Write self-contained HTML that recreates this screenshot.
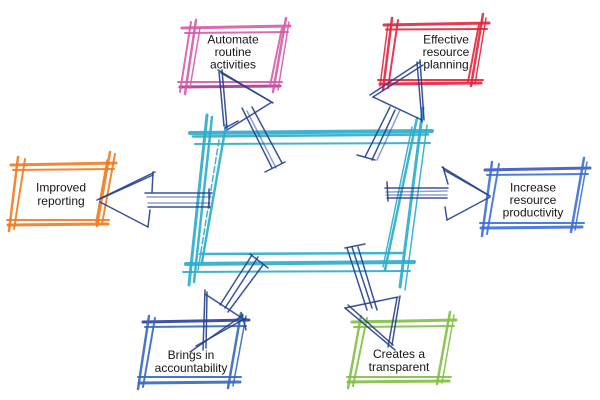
<!DOCTYPE html>
<html>
<head>
<meta charset="utf-8">
<style>
  html, body { margin: 0; padding: 0; background: #ffffff; }
  body { width: 600px; height: 400px; overflow: hidden; }
  svg { display: block; }
  text { font-family: "Liberation Sans", sans-serif; font-size: 12px; fill: #161616; text-anchor: middle; }
</style>
</head>
<body>
<svg width="600" height="400" viewBox="0 0 600 400" xmlns="http://www.w3.org/2000/svg">
  <rect x="0" y="0" width="600" height="400" fill="#ffffff"/>

  <!-- Central cyan box -->
  <g stroke="#2aaccb" stroke-linecap="round" fill="none" stroke-opacity="0.9">
    <line x1="190" y1="133" x2="432" y2="131" stroke-width="4"/>
    <line x1="193" y1="136.5" x2="428" y2="134.5" stroke-width="2.5"/>
    <line x1="195" y1="144" x2="430" y2="143" stroke-width="2"/>
    <line x1="207" y1="115" x2="189" y2="285" stroke-width="3"/>
    <line x1="212" y1="117" x2="194" y2="282" stroke-width="2.5"/>
    <line x1="226" y1="125" x2="202" y2="262" stroke-width="2.5"/>
    <line x1="219" y1="140" x2="198" y2="270" stroke-width="1.5" stroke-dasharray="6 3"/>
    <line x1="200" y1="254" x2="402" y2="253" stroke-width="2.5"/>
    <line x1="186" y1="264" x2="414" y2="262" stroke-width="4"/>
    <line x1="183" y1="272" x2="410" y2="271" stroke-width="2"/>
    <line x1="423" y1="108" x2="400" y2="287" stroke-width="3"/>
    <line x1="417" y1="118" x2="385" y2="270" stroke-width="2.5"/>
    <line x1="412" y1="127" x2="383" y2="267" stroke-width="1.5"/>
    <line x1="427" y1="125" x2="405" y2="290" stroke-width="1.5"/>
  </g>

  <!-- Pink box: Automate routine activities -->
  <g stroke="#d65aaa" stroke-linecap="round" fill="none" stroke-opacity="0.9">
    <line x1="182" y1="28" x2="290" y2="26" stroke-width="3"/>
    <line x1="185" y1="33" x2="288" y2="32" stroke-width="2"/>
    <line x1="178" y1="82" x2="282" y2="82" stroke-width="2"/>
    <line x1="180" y1="87" x2="280" y2="86" stroke-width="3" stroke="#a8398e"/>
    <line x1="196" y1="20" x2="185" y2="94" stroke-width="2.5"/>
    <line x1="191" y1="22" x2="180" y2="92" stroke-width="2"/>
    <line x1="200" y1="28" x2="190" y2="88" stroke-width="1.5"/>
    <line x1="286" y1="18" x2="273" y2="92" stroke-width="2.5"/>
    <line x1="289" y1="22" x2="278" y2="90" stroke-width="1.5"/>
    <line x1="282" y1="28" x2="270" y2="86" stroke-width="2"/>
  </g>

  <!-- Red box: Effective resource planning -->
  <g stroke="#e2253e" stroke-linecap="round" fill="none" stroke-opacity="0.9">
    <line x1="384" y1="25" x2="489" y2="23" stroke-width="3"/>
    <line x1="386" y1="29.5" x2="487" y2="29" stroke-width="2"/>
    <line x1="378" y1="80" x2="483" y2="80" stroke-width="2"/>
    <line x1="380" y1="84" x2="481" y2="83" stroke-width="3"/>
    <line x1="392" y1="18" x2="383" y2="90" stroke-width="2.5"/>
    <line x1="398" y1="20" x2="388" y2="88" stroke-width="2"/>
    <line x1="388" y1="24" x2="380" y2="86" stroke-width="1.5"/>
    <line x1="483" y1="14" x2="471" y2="86" stroke-width="2.5"/>
    <line x1="486" y1="18" x2="475" y2="84" stroke-width="1.5"/>
    <line x1="479" y1="24" x2="468" y2="82" stroke-width="2"/>
  </g>

  <!-- Orange box: Improved reporting -->
  <g stroke="#f27a1e" stroke-linecap="round" fill="none" stroke-opacity="0.9">
    <line x1="11" y1="165" x2="116" y2="163" stroke-width="3"/>
    <line x1="13" y1="170" x2="114" y2="169" stroke-width="2"/>
    <line x1="7" y1="220" x2="109" y2="220" stroke-width="2"/>
    <line x1="8" y1="225" x2="108" y2="224" stroke-width="3"/>
    <line x1="18" y1="157" x2="9" y2="231" stroke-width="2.5"/>
    <line x1="25" y1="159" x2="14" y2="229" stroke-width="2"/>
    <line x1="110" y1="152" x2="97" y2="226" stroke-width="2.5"/>
    <line x1="115" y1="154" x2="102" y2="224" stroke-width="2"/>
    <line x1="107" y1="160" x2="96" y2="222" stroke-width="1.5"/>
  </g>

  <!-- Blue box right: Increase resource productivity -->
  <g stroke="#3d6fd9" stroke-linecap="round" fill="none" stroke-opacity="0.9">
    <line x1="485" y1="170" x2="590" y2="168" stroke-width="3" stroke="#3b55c2"/>
    <line x1="487" y1="175" x2="588" y2="174" stroke-width="2"/>
    <line x1="480" y1="223" x2="584" y2="223" stroke-width="2"/>
    <line x1="481" y1="228" x2="582" y2="227" stroke-width="3"/>
    <line x1="492" y1="162" x2="482" y2="236" stroke-width="2.5"/>
    <line x1="499" y1="164" x2="487" y2="234" stroke-width="2"/>
    <line x1="584" y1="158" x2="571" y2="232" stroke-width="2.5"/>
    <line x1="587" y1="162" x2="575" y2="230" stroke-width="1.5"/>
  </g>

  <!-- Bottom-left box: Brings in accountability -->
  <g stroke="#3468c2" stroke-linecap="round" fill="none" stroke-opacity="0.9">
    <line x1="143" y1="322" x2="249" y2="320" stroke-width="3" stroke="#2c3f9c"/>
    <line x1="145" y1="327" x2="246" y2="326" stroke-width="2"/>
    <line x1="138" y1="377" x2="241" y2="377" stroke-width="2"/>
    <line x1="139" y1="383" x2="240" y2="382" stroke-width="3"/>
    <line x1="149" y1="316" x2="138" y2="389" stroke-width="2.5"/>
    <line x1="155" y1="318" x2="143" y2="387" stroke-width="2"/>
    <line x1="241" y1="313" x2="228" y2="388" stroke-width="2.5"/>
    <line x1="246" y1="316" x2="233" y2="386" stroke-width="1.5"/>
  </g>

  <!-- Green box: Creates a transparent -->
  <g stroke="#7fc042" stroke-linecap="round" fill="none" stroke-opacity="0.9">
    <line x1="352" y1="322" x2="456" y2="320" stroke-width="3"/>
    <line x1="354" y1="327" x2="454" y2="326" stroke-width="2"/>
    <line x1="347" y1="377" x2="451" y2="377" stroke-width="2"/>
    <line x1="348" y1="382" x2="449" y2="381" stroke-width="3"/>
    <line x1="361" y1="316" x2="348" y2="388" stroke-width="2.5"/>
    <line x1="367" y1="318" x2="353" y2="386" stroke-width="2"/>
    <line x1="450" y1="312" x2="437" y2="384" stroke-width="2.5"/>
    <line x1="454" y1="315" x2="442" y2="383" stroke-width="1.5"/>
  </g>

  <!-- Navy arrows -->
  <g stroke="#253f8d" stroke-linecap="round" fill="none" stroke-opacity="0.9" stroke-width="1.5">
    <!-- top-left arrow to Automate -->
    <line x1="218" y1="70" x2="273" y2="103"/>
    <line x1="221" y1="73" x2="270" y2="101"/>
    <line x1="222" y1="70" x2="227" y2="128"/>
    <line x1="219" y1="72" x2="224" y2="126"/>
    <line x1="227" y1="130" x2="272" y2="102"/>
    <line x1="225" y1="128" x2="238" y2="121"/>
    <line x1="242" y1="108" x2="272" y2="168"/>
    <line x1="252" y1="107" x2="282" y2="163"/>
    <line x1="247" y1="111" x2="276" y2="168" stroke-opacity="0.5"/>
    <line x1="265" y1="172" x2="285" y2="162"/>

    <!-- top-right arrow to Effective -->
    <line x1="370" y1="95" x2="420" y2="62"/>
    <line x1="373" y1="97" x2="423" y2="65"/>
    <line x1="417" y1="62" x2="422" y2="122"/>
    <line x1="420" y1="60" x2="424" y2="120"/>
    <line x1="373" y1="97" x2="422" y2="120"/>
    <line x1="390" y1="107" x2="365" y2="157"/>
    <line x1="395" y1="110" x2="372" y2="160"/>
    <line x1="400" y1="110" x2="377" y2="160" stroke-opacity="0.5"/>
    <line x1="357" y1="155" x2="375" y2="160"/>

    <!-- left arrow to Improved -->
    <line x1="145" y1="193" x2="212" y2="193"/>
    <line x1="147" y1="197" x2="211" y2="197" stroke-opacity="0.5"/>
    <line x1="148" y1="203" x2="210" y2="203" stroke-opacity="0.5"/>
    <line x1="148" y1="207" x2="210" y2="207"/>
    <line x1="209" y1="189" x2="209" y2="208"/>
    <line x1="97" y1="200" x2="155" y2="172"/>
    <line x1="100" y1="199" x2="153" y2="175"/>
    <line x1="100" y1="202" x2="148" y2="227"/>
    <line x1="153" y1="172" x2="152" y2="192"/>
    <line x1="150" y1="210" x2="148" y2="227"/>

    <!-- right arrow to Increase -->
    <line x1="385" y1="188" x2="448" y2="188"/>
    <line x1="386" y1="192" x2="447" y2="191" stroke-opacity="0.5"/>
    <line x1="386" y1="195" x2="447" y2="195" stroke-opacity="0.5"/>
    <line x1="387" y1="198" x2="447" y2="198"/>
    <line x1="387" y1="182" x2="388" y2="201"/>
    <line x1="442" y1="167" x2="490" y2="196"/>
    <line x1="444" y1="170" x2="488" y2="195"/>
    <line x1="447" y1="220" x2="490" y2="197"/>
    <line x1="443" y1="167" x2="448" y2="184"/>
    <line x1="445" y1="207" x2="447" y2="220"/>

    <!-- bottom-left arrow to Brings in -->
    <line x1="252" y1="255" x2="220" y2="305"/>
    <line x1="258" y1="257" x2="225" y2="308"/>
    <line x1="263" y1="265" x2="228" y2="312"/>
    <line x1="250" y1="254" x2="268" y2="268"/>
    <line x1="205" y1="290" x2="203" y2="350"/>
    <line x1="207" y1="292" x2="206" y2="348"/>
    <line x1="205" y1="294" x2="245" y2="320"/>
    <line x1="243" y1="315" x2="190" y2="352"/>
    <line x1="246" y1="318" x2="196" y2="346"/>
    <line x1="242" y1="314" x2="246" y2="330"/>

    <!-- bottom-right arrow to Creates -->
    <line x1="347" y1="248" x2="367" y2="310"/>
    <line x1="352" y1="247" x2="372" y2="308"/>
    <line x1="358" y1="247" x2="377" y2="310"/>
    <line x1="345" y1="248" x2="365" y2="244"/>
    <line x1="345" y1="308" x2="398" y2="297"/>
    <line x1="345" y1="308" x2="395" y2="350"/>
    <line x1="348" y1="305" x2="393" y2="345"/>
    <line x1="397" y1="298" x2="388" y2="347"/>
    <line x1="400" y1="296" x2="392" y2="345"/>
  </g>

  <!-- Labels -->
  <text x="233" y="43.5">Automate</text>
  <text x="233" y="56">routine</text>
  <text x="233" y="68.5">activities</text>

  <text x="446" y="43.5">Effective</text>
  <text x="446" y="56">resource</text>
  <text x="446" y="68.5">planning</text>

  <text x="61" y="191.5">Improved</text>
  <text x="61" y="205">reporting</text>

  <text x="533" y="191.5">Increase</text>
  <text x="533" y="204">resource</text>
  <text x="533" y="216.5">productivity</text>

  <text x="191" y="359">Brings in</text>
  <text x="191" y="372">accountability</text>

  <text x="399" y="358">Creates a</text>
  <text x="399" y="371">transparent</text>
</svg>
</body>
</html>
